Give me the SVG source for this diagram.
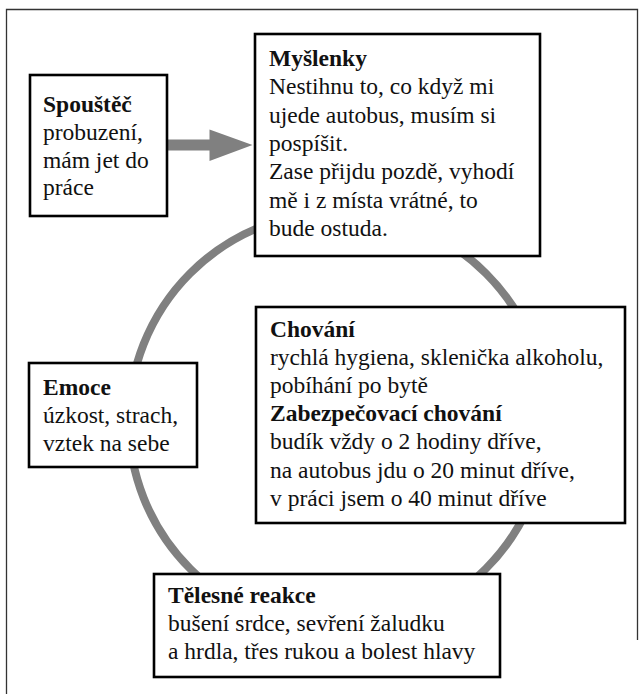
<svg xmlns="http://www.w3.org/2000/svg" width="644" height="694" viewBox="0 0 644 694">
<style>
.frame{fill:none;stroke:#333;stroke-width:1.3}
.box{fill:#fff;stroke:#000;stroke-width:2.6}
.t{font-family:"Liberation Serif","Times New Roman",serif;font-size:23.5px;fill:#111}
.b{font-weight:bold}
.cyc{fill:none;stroke:#808080;stroke-width:8}
.arr{fill:#808080}
</style>
<rect width="644" height="694" fill="#fff"/>
<g id="frame">
<path class="frame" d="M6.5,694 V9.5 H637.5 V640"/>
</g>
<g id="connectors">
<circle class="cyc" cx="338" cy="421" r="209"/>
<polygon class="arr" points="166,139.5 209.5,139.5 209.5,129.5 252.5,145 209.5,161 209.5,150.5 166,150.5"/>
</g>
<g id="spoustec">
<rect class="box" x="30" y="75" width="137" height="141"/>
<text class="t" x="43" y="112"><tspan class="b">Spouštěč</tspan><tspan x="43" y="140">probuzení,</tspan><tspan x="43" y="168">mám jet do</tspan><tspan x="43" y="195">práce</tspan></text>
</g>
<g id="myslenky">
<rect class="box" x="255" y="34" width="285" height="222"/>
<text class="t" x="269" y="66"><tspan class="b">Myšlenky</tspan><tspan x="269" y="94.3">Nestihnu to, co když mi</tspan><tspan x="269" y="122.6">ujede autobus, musím si</tspan><tspan x="269" y="150.9">pospíšit.</tspan><tspan x="269" y="179.2">Zase přijdu pozdě, vyhodí</tspan><tspan x="269" y="207.5">mě i z místa vrátné, to</tspan><tspan x="269" y="235.8">bude ostuda.</tspan></text>
</g>
<g id="chovani">
<rect class="box" x="256" y="307" width="369" height="216"/>
<text class="t" x="270" y="337"><tspan class="b">Chování</tspan><tspan x="270" y="365">rychlá hygiena, sklenička alkoholu,</tspan><tspan x="270" y="393">pobíhání po bytě</tspan><tspan x="270" y="421" class="b">Zabezpečovací chování</tspan><tspan x="270" y="449">budík vždy o 2 hodiny dříve,</tspan><tspan x="270" y="477.5">na autobus jdu o 20 minut dříve,</tspan><tspan x="270" y="506">v práci jsem o 40 minut dříve</tspan></text>
</g>
<g id="emoce">
<rect class="box" x="29" y="363" width="168" height="104"/>
<text class="t" x="43" y="395"><tspan class="b">Emoce</tspan><tspan x="43" y="423">úzkost, strach,</tspan><tspan x="43" y="451">vztek na sebe</tspan></text>
</g>
<g id="telesne">
<rect class="box" x="154" y="574" width="346" height="103"/>
<text class="t" x="168" y="603"><tspan class="b">Tělesné reakce</tspan><tspan x="168" y="631">bušení srdce, sevření žaludku</tspan><tspan x="168" y="659">a hrdla, třes rukou a bolest hlavy</tspan></text>
</g>
</svg>
